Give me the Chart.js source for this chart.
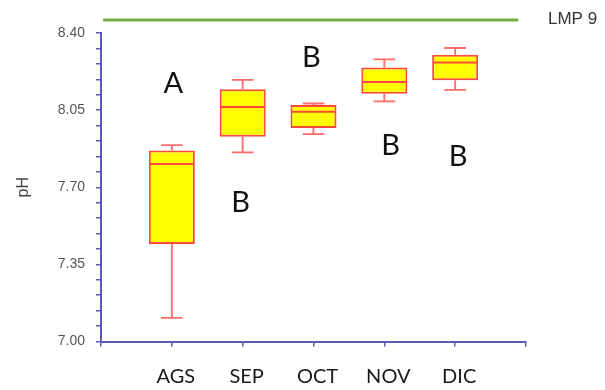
<!DOCTYPE html>
<html>
<head>
<meta charset="utf-8">
<script src="https://cdn.jsdelivr.net/npm/chart.js@4.4.1/dist/chart.umd.min.js"></script>
<style>
  html, body { margin: 0; padding: 0; background: #ffffff; }
  #wrap { width: 605px; height: 390px; position: relative; }
</style>
</head>
<body>
<div id="wrap"><canvas id="chart"></canvas></div>
<script>
// Monthly pH distribution (box and whisker per month)
const months = ['AGS', 'SEP', 'OCT', 'NOV', 'DIC'];
const whiskerLow  = [7.107, 7.858, 7.941, 8.090, 8.142];
const boxLow      = [7.442, 7.929, 7.969, 8.124, 8.186];
const medians     = [7.806, 8.064, 8.043, 8.178, 8.266];
const boxHigh     = [7.867, 8.145, 8.073, 8.243, 8.301];
const whiskerHigh = [7.891, 8.187, 8.080, 8.280, 8.332];

// Significance group letters and where they sit (x in category units, y in pH)
const groupLetters = ['A', 'B', 'B', 'B', 'B'];
const letterX      = [1.02, 1.97, 2.97, 4.09, 5.04];
const letterY      = [8.169, 7.632, 8.288, 7.887, 7.837];

// Axis ticks
const yMajorTicks = [7.00, 7.35, 7.70, 8.05, 8.40];
const yMinorStep = 0.07;
const xTickValues = [0, 1, 2, 3, 4, 5, 6];

// Permissible limit reference
const limitLabel = 'LMP 9';
const limitSpan = [0.03, 5.89];

const AXIS_BLUE = '#5b5bb8';
const BOX_RED = '#ff4a3a';
const WHISKER_RED = '#ff6a6a';

const boxExtras = {
  id: 'boxExtras',
  afterDatasetsDraw(chart) {
    const { ctx, scales: { x, y }, chartArea } = chart;
    const meta = chart.getDatasetMeta(0);
    ctx.save();
    meta.data.forEach((bar, i) => {
      const cx = bar.x;
      const half = bar.width / 2;
      const cap = bar.width * 0.235;
      // whiskers
      ctx.strokeStyle = WHISKER_RED;
      ctx.lineWidth = 1.8;
      ctx.beginPath();
      ctx.moveTo(cx, y.getPixelForValue(boxHigh[i]));
      ctx.lineTo(cx, y.getPixelForValue(whiskerHigh[i]));
      ctx.moveTo(cx - cap, y.getPixelForValue(whiskerHigh[i]));
      ctx.lineTo(cx + cap, y.getPixelForValue(whiskerHigh[i]));
      ctx.moveTo(cx, y.getPixelForValue(boxLow[i]));
      ctx.lineTo(cx, y.getPixelForValue(whiskerLow[i]));
      ctx.moveTo(cx - cap, y.getPixelForValue(whiskerLow[i]));
      ctx.lineTo(cx + cap, y.getPixelForValue(whiskerLow[i]));
      ctx.stroke();
      // median
      ctx.strokeStyle = BOX_RED;
      ctx.lineWidth = 2;
      ctx.beginPath();
      const my = y.getPixelForValue(medians[i]);
      ctx.moveTo(cx - half + 1, my);
      ctx.lineTo(cx + half - 1, my);
      ctx.stroke();
    });

    // group letters
    ctx.fillStyle = '#111111';
    ctx.font = '29px Lato, "Open Sans", sans-serif';
    ctx.textAlign = 'center';
    ctx.textBaseline = 'middle';
    groupLetters.forEach((t, i) => {
      ctx.fillText(t, x.getPixelForValue(letterX[i]), y.getPixelForValue(letterY[i]));
    });

    // limit line above the plot
    const ly = chartArea.top - 13;
    ctx.strokeStyle = '#70ad47';
    ctx.lineWidth = 3;
    ctx.beginPath();
    ctx.moveTo(x.getPixelForValue(limitSpan[0]), ly);
    ctx.lineTo(x.getPixelForValue(limitSpan[1]), ly);
    ctx.stroke();
    ctx.fillStyle = '#333333';
    ctx.font = '17px "Liberation Sans", Arial, sans-serif';
    ctx.textAlign = 'left';
    ctx.fillText(limitLabel, chartArea.right + 22, ly - 1);
    ctx.restore();
  }
};

new Chart(document.getElementById('chart'), {
  type: 'bar',
  data: {
    datasets: [{
      data: months.map((m, i) => ({ x: i + 1, y: [boxLow[i], boxHigh[i]] })),
      backgroundColor: '#ffff00',
      borderColor: BOX_RED,
      borderWidth: 2,
      borderSkipped: false,
      categoryPercentage: 1,
      barPercentage: 0.65
    }]
  },
  options: {
    responsive: true,
    maintainAspectRatio: false,
    animation: false,
    layout: { padding: { left: 0, right: 79, top: 33, bottom: 0 } },
    plugins: { legend: { display: false }, tooltip: { enabled: false } },
    scales: {
      x: {
        type: 'linear',
        min: 0,
        max: 6,
        offset: false,
        afterBuildTicks(scale) { scale.ticks = xTickValues.map(v => ({ value: v })); },
        afterFit(scale) { scale.height = 48.5; },
        border: { display: true, color: AXIS_BLUE, width: 2 },
        grid: { offset: false, drawOnChartArea: false, drawTicks: true, tickLength: 5, color: AXIS_BLUE, lineWidth: 1.5 },
        ticks: {
          autoSkip: false,
          maxRotation: 0,
          padding: 18,
          labelOffset: 4,
          color: '#1a1a1a',
          font: { family: 'Lato, "Open Sans", sans-serif', size: 20 },
          callback: (v) => months[v - 1] || ''
        }
      },
      y: {
        min: 7.0,
        max: 8.4,
        afterBuildTicks(scale) {
          const ticks = [];
          const n = Math.round((yMajorTicks[yMajorTicks.length - 1] - yMajorTicks[0]) / yMinorStep);
          for (let k = 0; k <= n; k++) ticks.push({ value: +(yMajorTicks[0] + k * yMinorStep).toFixed(2) });
          scale.ticks = ticks;
        },
        afterFit(scale) { scale.width = 101; },
        border: { display: true, color: AXIS_BLUE, width: 2 },
        grid: { drawOnChartArea: false, drawTicks: true, tickLength: 5, color: AXIS_BLUE, lineWidth: 1.5 },
        title: {
          display: true,
          text: 'pH',
          color: '#444444',
          font: { family: '"Liberation Sans", Arial, sans-serif', size: 16 },
          padding: { top: 14, bottom: 0 }
        },
        ticks: {
          autoSkip: false,
          padding: 11,
          color: '#555555',
          font: { family: '"Liberation Sans", Arial, sans-serif', size: 14 },
          callback: (v) => yMajorTicks.some(t => Math.abs(t - v) < 1e-6) ? v.toFixed(2) : ''
        }
      }
    }
  },
  plugins: [boxExtras]
});
</script>
</body>
</html>
